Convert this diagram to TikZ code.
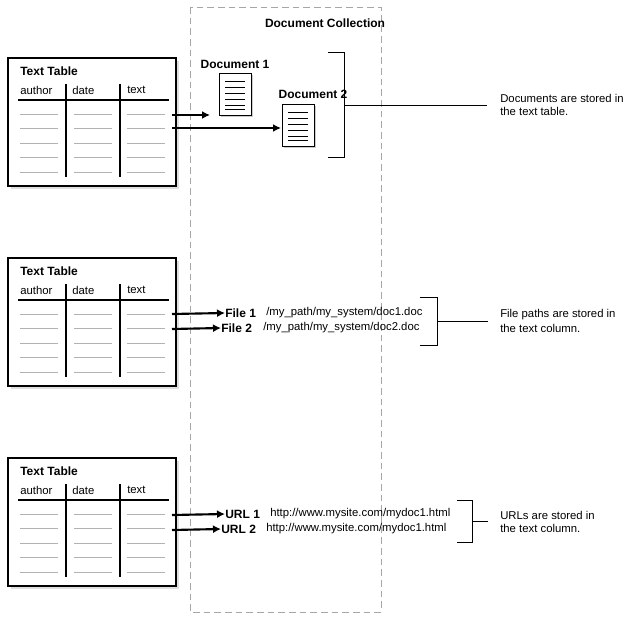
\documentclass[tikz,border=0pt]{standalone}
\usepackage{fontspec}
\setmainfont{Liberation Sans}
\begin{document}
\begin{tikzpicture}[x=0.75pt,y=-0.75pt,
  lbl/.style={font=\fontsize{8.5}{10}\selectfont,inner sep=0pt,anchor=west},
  blbl/.style={lbl,font=\fontsize{9}{10}\selectfont\bfseries},
  arr/.style={line width=1.6pt,-{Latex[length=6pt,width=6pt]}},
  row/.style={gray!60,line width=0.6pt}]
\usetikzlibrary{arrows.meta}
\useasboundingbox (0,0) rectangle (635,617);
\draw[gray!70,dash pattern=on 5pt off 3pt] (190,7) rectangle (381,612);
\node[blbl,anchor=center] (dc) at (325,23) {Document Collection};
\foreach \o/\n in {0/a,200/b,400/c}{
  \fill[gray!25] (11,61+\o) rectangle (179,189+\o);
  \draw[fill=white,line width=1pt] (8,58+\o) rectangle (176,186+\o);
  \node[blbl] (tt\n) at (20,71+\o) {Text Table};
  \node[lbl] (ha\n) at (20,90+\o) {author};
  \node[lbl] (hd\n) at (72,90+\o) {date};
  \node[lbl] (ht\n) at (127,90+\o) {text};
  \draw[line width=0.8pt] (18,100+\o) -- (169,100+\o);
  \draw[line width=0.8pt] (66,84+\o) -- (66,177+\o);
  \draw[line width=0.8pt] (120,84+\o) -- (120,177+\o);
  \foreach \y in {114,128,143,157,172}{
    \draw[row] (20,\y+\o) -- (58,\y+\o);
    \draw[row] (74,\y+\o) -- (112,\y+\o);
    \draw[row] (127,\y+\o) -- (165,\y+\o);}
}
% documents
\tikzset{doc/.pic={
  \fill[gray!40] (2,2) rectangle (34,44);
  \draw[fill=white] (0,0) rectangle (32,42);
  \foreach \y in {8,14,20,26,32,36}{\draw[line width=0.5pt] (6,\y) -- (26,\y);}
}}
\node[blbl,anchor=center] (d1l) at (235,64) {Document 1};
\node[blbl,anchor=center] (d2l) at (313,94) {Document 2};
\pic at (219,73) {doc};
\pic at (282,104) {doc};
\coordinate (d1) at (210,115);
\coordinate (d2) at (281,128);
\coordinate (s1) at (172,115);
\coordinate (s2) at (172,128);
\draw[arr] (s1) -- (d1);
\draw[arr] (s2) -- (d2);
\draw (328,52) -- (344,52) -- (344,157) -- (328,157);
\coordinate (b1) at (344,105); \coordinate (e1) at (487,105);
\draw (b1) -- (e1);
\node[lbl] (t1) at (500,98) {Documents are stored in};
\node[lbl] (t1b) at (500,111) {the text table.};
% files
\node[blbl] (f1) at (225,313) {File 1};
\node[lbl] (p1) at (266,313) {/my\_path/my\_system/doc1.doc};
\node[blbl] (f2) at (221,328) {File 2};
\node[lbl] (p2) at (263,328) {/my\_path/my\_system/doc2.doc};
\coordinate (s3) at (172,314); \coordinate (s4) at (172,329);
\draw[arr] (s3) -- (f1.west);
\draw[arr] (s4) -- (f2.west);
\draw (420,297) -- (437,297) -- (437,345) -- (420,345);
\coordinate (b2) at (437,321); \coordinate (e2) at (488,321);
\draw (b2) -- (e2);
\node[lbl] (t2) at (500,315) {File paths are stored in};
\node[lbl] (t2b) at (500,328) {the text column.};
% urls
\node[blbl] (u1) at (225,514) {URL 1};
\node[lbl] (q1) at (270,514) {http://www.mysite.com/mydoc1.html};
\node[blbl] (u2) at (221,529) {URL 2};
\node[lbl] (q2) at (266,529) {http://www.mysite.com/mydoc1.html};
\coordinate (s5) at (172,515); \coordinate (s6) at (172,530);
\draw[arr] (s5) -- (u1.west);
\draw[arr] (s6) -- (u2.west);
\draw (457,500) -- (472,500) -- (472,542) -- (457,542);
\coordinate (b3) at (472,521); \coordinate (e3) at (488,521);
\draw (b3) -- (e3);
\node[lbl] (t3) at (500,515) {URLs are stored in};
\node[lbl] (t3b) at (500,528) {the text column.};
\end{tikzpicture}
\end{document}
